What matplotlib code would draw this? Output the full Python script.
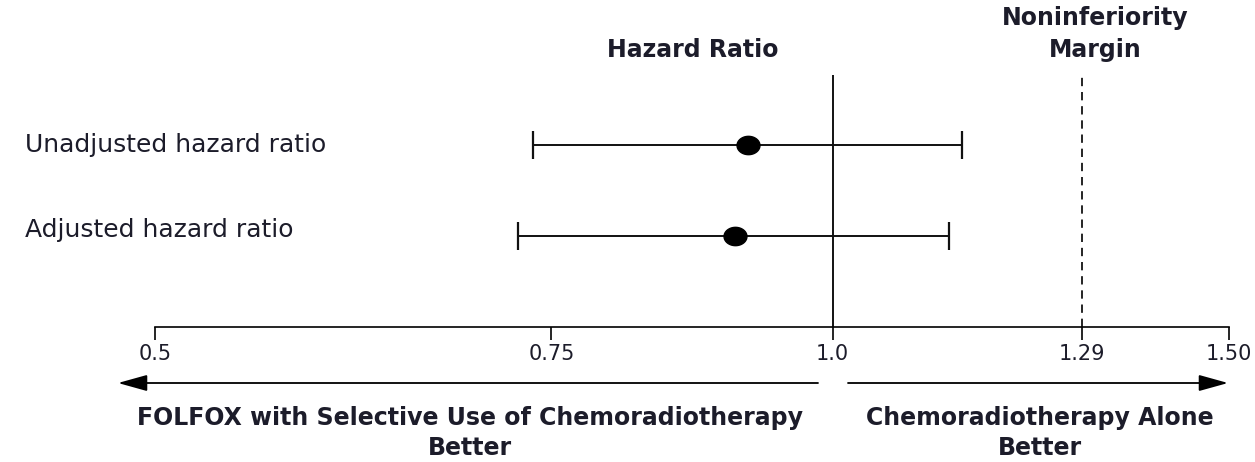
import matplotlib
matplotlib.use('Agg')
import matplotlib.pyplot as plt
import numpy as np
from matplotlib.path import Path
from matplotlib.ticker import NullLocator, FixedLocator, FixedFormatter

# ---- data ----
row_labels = ['Unadjusted hazard ratio', 'Adjusted hazard ratio']
hazard_ratio = [0.917, 0.905]
ci_lower = [0.736, 0.725]
ci_upper = [1.141, 1.127]
row_pos = [1, 0]
tick_values = [0.5, 0.75, 1.0, 1.29, 1.50]
tick_labels = ['0.5', '0.75', '1.0', '1.29', '1.50']
noninferiority_margin = 1.29
reference_line = 1.0

W, H = 1255, 462
fig = plt.figure(figsize=(W / 100, H / 100), dpi=100)
fig.patch.set_facecolor('white')

def fx(px):
    return px / W

def fy(py):
    return 1 - py / H

ax = fig.add_axes([fx(155), fy(327), (1229 - 155) / W, (327 - 75) / H])
ax.set_xscale('log')
ax.set_xlim(tick_values[0], tick_values[-1])
ax.set_ylim(-1, 1.77)

for s in ['left', 'right', 'top']:
    ax.spines[s].set_visible(False)
ax.spines['bottom'].set_linewidth(1.2)
ax.xaxis.set_major_locator(FixedLocator(tick_values))
ax.xaxis.set_major_formatter(FixedFormatter(tick_labels))
ax.xaxis.set_minor_locator(NullLocator())
ax.tick_params(axis='x', which='major', direction='out', length=9, width=1.2,
               labelsize=15, pad=3, labelcolor='#1c1c2a')
ax.set_yticks([])

# reference and margin lines
ax.axvline(reference_line, color='black', lw=1.3, zorder=1)
ax.axvline(noninferiority_margin, ymin=0, ymax=1.012, color='black', lw=1.2,
           ls=(0, (5, 3.5)), clip_on=False, zorder=1)

# error bars
hr = np.array(hazard_ratio)
lo = np.array(ci_lower)
hi = np.array(ci_upper)
ax.errorbar(hr, row_pos, xerr=[hr - lo, hi - hr], fmt='none', ecolor='#111111',
            elinewidth=1.4, capsize=10, capthick=1.6, zorder=2)

# elliptical markers
t = np.linspace(0, 2 * np.pi, 60)
ell = Path(np.column_stack([1.25 * np.cos(t), np.sin(t)]), closed=True)
ax.plot(hr, row_pos, ls='none', marker=ell, markersize=16.5,
        color='black', zorder=3)

txt_color = '#1c1c2a'
# row labels
fig.text(fx(25), fy(145), row_labels[0], ha='left', va='center', fontsize=18,
         color=txt_color)
fig.text(fx(25), fy(230), row_labels[1], ha='left', va='center', fontsize=18,
         color=txt_color)

# headers
fig.text(fx(693), fy(50), 'Hazard Ratio', ha='center', va='center',
         fontsize=17, weight='bold', color=txt_color)
fig.text(fx(1095), fy(34), 'Noninferiority\nMargin', ha='center', va='center',
         fontsize=17, weight='bold', color=txt_color, linespacing=1.4)

# direction arrows
arrow_kw = dict(arrowstyle='-|>,head_length=0.9,head_width=0.25', color='black',
                lw=1.3, shrinkA=0, shrinkB=0, mutation_scale=20)
ax.annotate('', xy=(fx(118), fy(383)), xycoords='figure fraction',
            xytext=(fx(818), fy(383)), textcoords='figure fraction',
            arrowprops=arrow_kw, annotation_clip=False)
ax.annotate('', xy=(fx(1228), fy(383)), xycoords='figure fraction',
            xytext=(fx(848), fy(383)), textcoords='figure fraction',
            arrowprops=arrow_kw, annotation_clip=False)

fig.text(fx(470), fy(433), 'FOLFOX with Selective Use of Chemoradiotherapy\nBetter',
         ha='center', va='center', fontsize=17, weight='bold', color=txt_color,
         linespacing=1.3)
fig.text(fx(1040), fy(433), 'Chemoradiotherapy Alone\nBetter',
         ha='center', va='center', fontsize=17, weight='bold', color=txt_color,
         linespacing=1.3)

fig.savefig('out.png', dpi=100, facecolor='white')
